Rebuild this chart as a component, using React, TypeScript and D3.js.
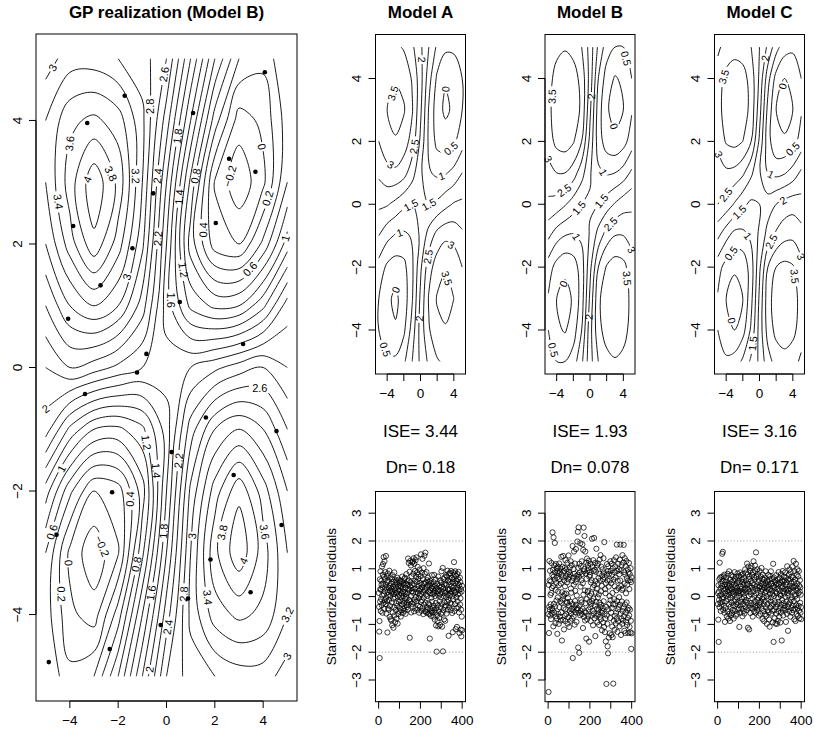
import React from "react";
import * as d3 from "d3";

const FONT = "'Liberation Sans', Arial, Helvetica, sans-serif";

// ---------- grid coordinates of the fields ----------
const GRID_X = [-5, -4, -3, -2, -1, 0, 1, 2, 3, 4, 5];
const GRID_Y = [5, 4, 3, 2, 1, 0, -1, -2, -3, -4, -5];

// GP realization (rows: y = 5 ... -5, cols: x = -5 ... 5)
const TRUE_FIELD = [
  [2.9, 3.1, 3.1, 3.0, 2.9, 2.6, 1.8, 1.0, 0.4, 0.25, 0.6],
  [3.2, 3.55, 3.65, 3.5, 3.05, 2.3, 1.4, 0.5, -0.1, 0.05, 0.5],
  [3.2, 3.7, 4.15, 3.75, 3.0, 2.0, 0.95, -0.02, -0.35, -0.05, 0.6],
  [3.0, 3.5, 3.95, 3.5, 2.85, 1.8, 0.7, 0.1, 0.0, 0.45, 1.1],
  [2.6, 3.0, 3.2, 3.0, 2.5, 1.7, 1.15, 0.95, 1.0, 1.35, 1.9],
  [2.2, 2.4, 2.3, 2.15, 2.0, 1.9, 2.0, 2.15, 2.3, 2.4, 2.2],
  [1.9, 1.35, 1.0, 0.95, 1.15, 1.7, 2.5, 3.0, 3.2, 3.0, 2.6],
  [1.1, 0.45, 0.0, 0.1, 0.7, 1.8, 2.85, 3.5, 3.95, 3.5, 3.0],
  [0.6, -0.05, -0.35, -0.02, 0.95, 2.0, 3.0, 3.75, 4.15, 3.7, 3.2],
  [0.5, 0.05, -0.1, 0.5, 1.4, 2.3, 3.05, 3.5, 3.65, 3.55, 3.2],
  [0.6, 0.25, 0.4, 1.0, 1.8, 2.6, 2.9, 3.0, 3.1, 3.1, 2.9],
];

const MODEL_A_FIELD = [
  [3.0, 3.1, 3.1, 2.95, 2.6, 2.1, 1.5, 0.9, 0.6, 0.6, 0.8],
  [3.1, 3.35, 3.45, 3.35, 2.95, 2.2, 1.2, 0.4, 0.05, 0.15, 0.5],
  [3.15, 3.5, 3.7, 3.55, 3.05, 2.1, 0.95, 0.2, -0.1, 0.1, 0.5],
  [3.0, 3.3, 3.45, 3.25, 2.8, 1.9, 0.9, 0.35, 0.25, 0.4, 0.8],
  [2.6, 2.85, 2.9, 2.7, 2.2, 1.6, 1.05, 0.9, 0.95, 1.15, 1.5],
  [2.1, 2.05, 1.85, 1.6, 1.5, 1.6, 1.5, 1.6, 1.85, 2.05, 2.1],
  [1.5, 1.15, 0.95, 0.9, 1.05, 1.6, 2.2, 2.7, 2.9, 2.85, 2.6],
  [0.8, 0.4, 0.25, 0.35, 0.9, 1.9, 2.8, 3.25, 3.45, 3.3, 3.0],
  [0.5, 0.1, -0.1, 0.2, 0.95, 2.1, 3.05, 3.55, 3.7, 3.5, 3.15],
  [0.5, 0.15, 0.05, 0.4, 1.2, 2.2, 2.95, 3.35, 3.45, 3.35, 3.1],
  [0.8, 0.6, 0.6, 0.9, 1.5, 2.1, 2.6, 2.95, 3.1, 3.1, 3.0],
];

const MODEL_B_FIELD = [
  [3.0, 3.35, 3.45, 3.35, 3.0, 2.3, 1.4, 0.75, 0.5, 0.5, 0.75],
  [3.3, 3.7, 3.85, 3.7, 3.35, 2.3, 1.0, 0.25, -0.05, 0.1, 0.5],
  [3.35, 3.8, 3.95, 3.8, 3.4, 2.1, 0.75, 0.05, -0.15, 0.0, 0.45],
  [3.25, 3.65, 3.75, 3.55, 3.0, 1.85, 0.75, 0.25, 0.1, 0.3, 0.75],
  [2.8, 3.0, 3.0, 2.75, 2.2, 1.55, 1.1, 0.95, 1.0, 1.2, 1.6],
  [2.4, 2.3, 2.05, 1.75, 1.5, 1.45, 1.5, 1.75, 2.05, 2.3, 2.4],
  [1.6, 1.2, 1.0, 0.95, 1.1, 1.55, 2.2, 2.75, 3.0, 3.0, 2.8],
  [0.75, 0.3, 0.1, 0.25, 0.75, 1.85, 3.0, 3.55, 3.75, 3.65, 3.25],
  [0.45, 0.0, -0.15, 0.05, 0.75, 2.1, 3.4, 3.8, 3.95, 3.8, 3.35],
  [0.5, 0.1, -0.05, 0.25, 1.0, 2.3, 3.35, 3.7, 3.85, 3.7, 3.3],
  [0.75, 0.5, 0.5, 0.75, 1.4, 2.3, 3.0, 3.35, 3.45, 3.35, 3.0],
];

const MODEL_C_FIELD = [
  [2.9, 3.2, 3.3, 3.25, 3.0, 2.5, 1.9, 1.2, 0.7, 0.6, 0.8],
  [3.25, 3.65, 3.8, 3.7, 3.3, 2.4, 1.2, 0.3, 0.0, 0.1, 0.5],
  [3.3, 3.75, 3.9, 3.75, 3.35, 2.2, 0.85, 0.0, -0.15, 0.0, 0.45],
  [3.15, 3.55, 3.65, 3.5, 3.0, 1.9, 0.7, 0.1, 0.05, 0.3, 0.7],
  [2.7, 2.9, 2.85, 2.6, 2.1, 1.55, 1.0, 0.85, 0.95, 1.2, 1.6],
  [2.5, 2.3, 1.95, 1.6, 1.4, 1.5, 1.75, 2.0, 2.2, 2.3, 2.2],
  [1.6, 1.15, 0.8, 0.85, 1.1, 1.6, 2.2, 2.6, 2.85, 2.9, 2.7],
  [0.7, 0.3, 0.05, 0.15, 0.75, 1.9, 3.0, 3.5, 3.65, 3.55, 3.15],
  [0.45, 0.0, -0.15, 0.0, 0.85, 2.1, 3.3, 3.75, 3.9, 3.75, 3.3],
  [0.5, 0.1, 0.0, 0.3, 1.1, 2.2, 3.2, 3.65, 3.8, 3.65, 3.25],
  [0.8, 0.6, 0.7, 1.1, 1.6, 2.1, 2.8, 3.2, 3.3, 3.2, 2.9],
];

const TRUE_LEVELS = [-0.2, 0, 0.2, 0.4, 0.6, 0.8, 1, 1.2, 1.4, 1.6, 1.8, 2, 2.2, 2.4, 2.6, 2.8, 3, 3.2, 3.4, 3.6, 3.8, 4];
const MODEL_LEVELS = [0, 0.5, 1, 1.5, 2, 2.5, 3, 3.5];

// design points of the GP realization
const DESIGN_X = [-1.73, -3.28, 1.1, 4.07, 2.59, 3.68, -0.55, -3.86, 2.04, -1.41, -2.73, 0.55, -4.07, 3.17, -0.83, -1.22, -3.37, 1.63, 4.55, 0.21, 2.78, -2.25, 4.76, -4.55, 1.82, 0.89, 3.48, -0.24, -2.35, -4.87];
const DESIGN_Y = [4.4, 3.96, 4.12, 4.78, 3.38, 3.17, 2.82, 2.29, 2.34, 1.93, 1.33, 1.06, 0.79, 0.38, 0.22, -0.08, -0.43, -0.81, -1.03, -1.37, -1.74, -2.02, -2.55, -2.71, -3.11, -3.74, -3.64, -4.17, -4.56, -4.77];

// contour label anchors: [level, x, y]
const TRUE_LABELS = [
  [3, -4.55, 4.82], [2.6, 0, 4.74], [2.8, -0.62, 4.23], [1.8, 0.55, 3.74], [3.6, -4.28, 3.64], [0, 4.0, 3.58],
  [4, -3.0, 3.0], [3.8, -2.14, 3.17], [3.2, -1.24, 3.1], [2.4, -0.3, 3.1], [0.8, 1.21, 3.1], [-0.2, 2.6, 3.1],
  [1.4, 0.52, 2.76], [3.4, -4.55, 2.68], [0.2, 4.1, 2.75], [2.2, -0.35, 2.09], [0.4, 1.45, 2.23], [1, 4.69, 2.12],
  [1.2, 0.55, 1.57], [0.6, 3.58, 1.55], [3, -1.65, 1.47], [1.6, -0.07, 1.09], [2.6, 3.86, -0.37], [2, -4.76, -0.91],
  [1.2, -0.76, -1.21], [2.2, 0.55, -1.51], [1.4, -0.41, -1.67], [1, -4.34, -1.64], [0.4, -1.45, -2.13], [3.8, 2.07, -2.65],
  [3.6, 4.28, -2.65], [1.8, -0.14, -2.65], [3, 1.03, -2.73], [0.6, -4.69, -2.67], [-0.2, -2.97, -2.94], [0, -4.0, -3.16],
  [0.8, -1.17, -3.19], [4, 3.0, -3.1], [1.6, -0.62, -3.65], [2.8, 0.76, -3.67], [3.4, 1.51, -3.73], [3.2, 4.9, -3.65],
  [0.2, -4.34, -3.67], [2.4, 0, -4.2], [3, 4.76, -4.62], [2, -0.97, -4.87],
];
const MODEL_A_LABELS = [
  [3, -4.5, 4.54], [2, 0.49, 4.6], [3.5, -3.3, 3.53], [0, 3.28, 3.9], [2.5, -0.7, 1.83], [0.5, 3.48, 1.83],
  [3, -3.7, 1.2], [1, 2.49, 0.93], [1.5, -1.5, 0.14], [1.5, 1.09, -0.18], [1, -2.5, -0.92], [3, 3.68, -1.3],
  [2.5, 0.89, -1.67], [3.5, 3.08, -2.36], [0, -3.5, -2.52], [2, -0.31, -3.63], [0.5, -3.9, -4.59],
];
const MODEL_B_LABELS = [
  [0.5, 3.79, 4.6], [3.5, -4.78, 3.43], [2, 0, 3.43], [0, 2.79, 2.47], [3, -4.78, 1.57], [1, 2.0, 1.09],
  [2.5, -3.39, 0.56], [1.5, -2.19, 0.08], [1.5, 1.2, 0.14], [2.5, 2.79, -0.71], [1, -1.59, -1.03], [3, 4.78, -1.56],
  [3.5, 3.98, -2.36], [0, -3.79, -2.46], [2, -0.2, -3.58], [0.5, -3.79, -4.59],
];
const MODEL_C_LABELS = [
  [3.5, -3.07, 3.96], [2, 0.72, 4.65], [0, 2.9, 3.75], [3, -4.67, 1.62], [0.5, 3.71, 1.83], [1, 1.52, 1.04],
  [2.5, -4.27, 0.35], [1.5, -2.67, -0.18], [2, 3.5, -0.18], [1, -1.28, -0.98], [2.5, 1.11, -1.14], [0.5, -2.87, -1.67],
  [3, 4.9, -1.67], [3.5, 3.71, -2.31], [0, -3.07, -3.68], [1.5, -0.87, -4.43],
];

// standardized residuals (index 1..400)
const RESID_A = [
  0.13, -0.37, -1.26, -0.88, -2.21, 0.62, -0.18, 0.27, 0.91, -0.52, 0.24, -0.09, 0.57, 0.43, -0.31, 1.08, 0.04, -0.58, 0.33, 0.79,
  1.17, 0.46, -0.23, 1.42, 0.71, 0.08, -0.44, 1.27, 0.19, -0.13, 0.63, 0.88, -0.27, 0.41, 1.46, -0.04, -0.61, 0.29, 0.74, -0.16,
  0.52, -1.29, 0.17, 0.83, -0.42, 0.06, 0.58, -0.47, 0.32, -0.12, 0.93, 0.38, -0.73, 0.22, -0.34, 0.69, 0.03, -0.81, 0.47, 0.14,
  -0.86, 0.28, -0.21, 0.64, -1.03, 0.18, 0.77, -0.57, 0.36, -0.07, -1.12, 0.53, 0.09, -0.39, 0.87, -0.68, 0.23, -0.02, -0.92, 0.44,
  0.31, -0.48, 0.59, -0.24, 0.12, -0.79, 0.51, 0.16, -0.33, 0.68, -0.97, 0.01, 0.37, -0.63, 0.26, 0.61, -0.19, 0.07, -0.53, 0.49,
  0.21, -0.41, 0.57, -0.14, 0.39, -0.72, 0.34, -0.03, -0.49, 0.54, 0.11, -0.28, 0.72, -0.17, 0.29, -0.59, 0.18, 0.48, -0.43, 0.02,
  0.42, -0.23, 0.63, -0.51, 0.16, 0.68, -0.08, 0.32, -0.62, 0.09, 0.47, -0.31, 0.81, -0.01, -0.38, 0.43, -0.22, 0.56, 0.13, -0.47,
  1.37, 0.27, -0.29, 1.21, 0.58, -0.12, 0.24, 0.89, -1.48, 0.37, 1.28, -0.18, 0.52, 0.03, 1.12, -0.57, 0.31, 0.73, -0.26, 0.19,
  1.23, 0.41, -0.36, 1.26, 0.14, 0.82, -0.21, 1.38, 0.47, -0.53, 1.18, 0.28, -0.11, 0.92, 0.57, -0.42, 1.31, 0.17, -0.02, 0.71,
  1.41, -0.17, 0.53, 0.87, -0.48, 0.27, 1.07, 0.12, -0.32, 0.64, 0.79, -0.06, 0.38, -0.58, 0.21, 0.97, 0.04, -0.37, 0.49, 0.28,
  0.73, -0.19, 1.52, 0.09, -0.51, 0.43, 0.86, -0.13, 0.33, 1.36, -0.41, 0.62, 0.17, -0.63, 1.02, -0.03, 0.48, -0.29, 1.47, 0.22,
  0.82, -0.52, 0.27, 1.58, -0.22, 0.51, 0.07, -0.57, 0.88, 0.32, -0.38, 0.59, 0.02, -0.47, 0.41, 0.68, -0.24, 0.18, -0.61, 0.53,
  1.19, -0.28, 0.42, -0.63, -1.51, 0.12, 0.57, -0.43, 0.23, -0.69, 0.48, -0.04, -0.52, 0.31, 0.77, -0.18, -0.58, 0.37, 0.08, -0.41,
  0.28, -0.72, 0.52, -0.33, 0.14, 0.78, -0.48, 0.21, -0.83, 0.39, 0.02, -0.57, 0.61, -0.23, -1.04, 0.29, -0.42, -1.98, 0.11, -0.67,
  0.47, -0.88, 0.19, -0.31, 0.72, -1.07, 0.03, -0.53, 0.38, -0.77, 0.23, -0.17, 0.58, -1.02, 0.09, -0.39, 0.32, -0.62, -0.03, 0.51,
  0.91, -0.27, 0.36, -1.08, 0.17, -0.58, 1.03, -1.97, 0.28, -0.48, 0.63, 0.02, -0.82, 0.43, -0.21, 0.69, -0.37, 0.13, -0.87, 0.47,
  0.19, -0.32, 0.77, -0.02, -0.61, 0.42, 0.72, -0.18, 0.07, 0.93, -0.47, 0.27, 0.58, -0.12, -1.41, 0.23, 0.83, -0.38, 0.52, 0.04,
  0.27, 0.84, -0.23, 0.62, 0.11, -0.49, 0.92, 0.37, -0.28, 0.18, 0.67, -0.59, 0.01, 0.53, -1.28, 0.31, 0.87, -0.09, 0.63, 0.22,
  1.24, 0.38, -0.52, 0.79, 0.13, -0.27, 0.91, 0.48, -1.17, 0.17, 0.73, -0.03, -0.42, 0.57, -1.09, 0.32, 0.81, -0.17, 0.46, 0.08,
  0.62, -0.38, 0.89, 0.23, -0.57, 0.41, -1.31, 0.12, 0.68, -0.28, 0.52, -0.06, -1.19, 0.27, -0.47, -1.43, 0.18, -0.72, 0.39, -1.21,
];
const RESID_B = [
  -0.63, -3.43, 0.42, -1.31, -0.37, 1.28, 0.58, -0.47, 0.93, -0.68, 0.06, -0.28, 0.54, -0.81, 0.13, 1.21, -0.59, 0.31, -0.42, 0.78,
  2.31, -0.49, 0.97, 0.38, -1.07, 2.13, 0.72, -0.26, 1.12, -0.58, 0.61, 1.93, -0.36, 0.87, -0.96, 0.24, 1.17, -0.71, 0.49, -0.14,
  1.02, -0.79, 0.68, -1.34, 0.91, -0.03, 1.08, 0.18, -0.62, 0.83, -0.98, 0.41, 1.19, -0.38, 0.63, -0.72, 0.88, -0.17, 1.01, -0.86,
  0.47, -0.57, 1.43, -0.22, 0.79, -1.58, 0.16, 1.07, -0.11, 0.69, -0.83, 1.46, 0.02, -0.41, 0.92, -1.18, 0.58, 0.09, 1.03, -0.69,
  0.37, -0.88, 1.31, -0.46, 0.73, 0.11, -0.63, 0.98, -0.19, 0.51, -0.23, 1.22, -0.97, 0.81, -0.06, 0.62, -0.74, 1.48, -0.31, 0.89,
  -1.09, 0.71, -0.52, 1.04, -0.18, 0.79, -0.87, 1.27, 0.29, -0.61, 0.14, -0.44, 1.13, -0.79, 0.57, -0.27, 1.82, -2.21, 0.68, -0.49,
  0.99, -0.71, 0.43, 1.62, -0.38, 0.82, -1.01, 1.19, -0.16, 0.21, -0.57, 0.52, 1.71, -0.29, 0.74, -0.91, 0.04, -0.48, 0.63, 1.98,
  -0.42, 2.33, 0.79, -1.83, 1.03, 2.49, -0.58, 0.71, -2.02, 1.18, -0.32, 0.87, -0.67, 1.92, 0.36, -0.51, 1.09, -0.12, 0.59, -0.21,
  1.27, -0.63, 0.81, 1.88, -0.44, 0.48, -1.13, 1.68, 0.07, 2.48, 0.91, -0.73, 0.99, 2.18, -0.53, 0.22, -0.86, 1.62, -0.24, 0.83,
  -0.58, 1.22, -1.51, 0.64, -0.09, 1.37, -0.81, 0.93, 0.16, 1.13, 0.21, -0.69, 1.02, -0.47, 1.29, -1.62, 0.72, -0.19, 0.88, 0.03,
  0.78, -0.39, 1.18, -0.88, 0.51, -0.27, 0.11, -0.68, 0.59, 2.08, -0.16, 1.08, -0.51, 0.33, -1.03, 1.31, -0.07, 0.92, -0.61, 2.11,
  0.41, -0.78, 0.97, -0.32, 1.21, -1.42, 0.56, 0.14, 0.89, -0.19, 1.72, -0.69, 0.28, -0.43, 1.12, -0.92, 0.47, -0.03, 1.19, -0.63,
  0.67, -0.48, 0.08, -1.02, 0.82, -0.22, 1.33, -0.73, 0.57, -0.38, 1.49, -0.82, 0.19, -0.29, 1.07, -0.58, 0.39, -1.21, 0.76, -0.52,
  0.98, -0.41, 0.62, -0.93, 1.38, -0.17, 0.87, -1.09, 1.96, -0.62, 0.69, -1.28, 0.27, -0.79, 0.12, -1.61, 0.48, -0.37, -3.14, 0.79,
  -0.68, 1.17, -0.98, 0.58, -1.79, 0.91, -2.04, 1.09, -0.46, 0.36, -1.47, 0.82, -0.26, 0.02, -1.32, 0.58, -0.77, 1.27, -0.13, 0.93,
  -0.57, 0.48, -1.38, 1.18, -0.41, 0.79, -1.08, 0.13, -1.46, 1.02, -0.28, -3.13, 0.61, -0.87, 1.31, -0.09, 0.88, -1.19, 0.37, -0.69,
  1.09, -0.27, 0.68, -0.97, 1.41, -0.58, 0.23, -0.79, 1.87, -0.16, 0.92, -1.27, 0.57, -0.46, 1.18, -0.88, 0.31, -0.37, 0.98, -0.02,
  0.81, -1.07, 1.33, -0.29, 0.58, 1.87, -0.61, 0.94, -1.38, 0.38, -0.79, 1.13, -0.18, 0.24, -0.98, 1.49, -0.52, 0.29, -0.86, 1.22,
  -0.39, 1.86, -0.71, 0.88, -1.23, 0.47, 1.38, -0.28, 0.79, -1.31, 1.09, -0.58, 0.12, -0.91, 1.28, -0.21, 0.67, -1.02, 0.43, -0.48,
  0.98, -0.77, 0.58, -1.31, 0.87, -0.41, 1.21, -0.68, 0.27, -1.09, 0.81, -0.47, 0.59, -1.29, 1.02, -0.87, 0.52, -1.88, 0.69, -1.32,
];
const RESID_C = [
  -0.27, 0.12, -0.83, 0.41, -1.63, 0.18, -0.11, 0.62, -0.38, 1.22, 0.03, 0.68, -0.22, 0.31, -0.52, 0.47, 0.08, -0.29, 0.71, -0.07,
  0.38, 1.54, -0.19, 0.57, 1.61, -0.02, -0.48, 0.28, 0.73, -0.33, 0.21, 0.79, -0.58, 0.43, -0.91, 0.12, 0.52, -0.41, 0.27, 0.69,
  -0.17, 0.58, 0.02, -0.71, 0.42, 0.19, -0.53, 0.82, -0.09, 0.33, -0.79, 0.48, 0.07, -0.28, 0.91, -0.62, 0.23, 0.39, -0.88, -0.03,
  0.61, -0.37, 0.29, -0.68, 0.78, 0.13, -0.22, 0.52, -0.59, 0.27, 0.04, -0.48, 0.72, 0.17, -0.31, 0.58, -0.79, 0.43, 0.09, -0.18,
  0.88, 0.32, -0.51, 0.63, -0.13, 0.38, -0.69, 0.22, 0.71, -0.27, -0.02, 0.49, -0.62, 0.31, 0.83, -0.21, 0.12, -0.47, 0.58, 0.19,
  -0.42, 0.73, 0.03, -1.09, 0.51, 0.21, -0.32, 0.87, -0.58, 0.37, 0.13, -0.19, 0.78, -0.43, 0.28, 0.62, -0.08, 0.53, -0.71, 0.17,
  0.81, -0.28, 0.42, 0.11, -0.52, 0.68, -0.03, -0.61, 0.47, 0.23, -0.17, 0.98, 0.29, -0.38, 0.58, -0.12, 0.87, 0.18, -0.49, 0.41,
  1.19, -0.22, 0.47, 0.79, -1.12, 0.27, 1.08, -0.41, 0.63, 0.02, -1.18, 0.71, 0.17, -0.32, 0.92, 0.38, -0.59, 1.02, 0.09, -0.23,
  0.57, 1.09, -0.42, 0.32, 0.79, -0.07, 0.48, -0.72, 0.88, 0.19, -0.28, 1.27, 0.41, -0.53, 0.69, 0.03, -0.18, 0.61, 1.12, -0.38,
  0.28, 0.91, -0.58, 1.59, 0.12, -0.33, 0.71, 0.37, -0.48, 0.98, 0.23, -0.12, 0.81, -0.39, 0.52, -0.04, -0.68, 0.59, 0.32, -0.21,
  0.92, -0.31, 0.38, 0.02, -0.62, 0.72, 0.18, -0.19, 0.49, 1.03, -0.42, 0.28, -0.08, 0.63, -0.81, 0.22, 0.79, -0.52, 0.41, -0.02,
  -0.28, 0.61, -0.88, 0.33, 0.68, -0.17, 0.13, -0.63, 0.48, 0.91, -0.38, 0.19, -0.69, 0.42, 0.01, -0.98, 0.57, -0.27, 0.31, -0.49,
  0.52, -0.09, 0.78, -0.57, 0.23, 0.41, -0.82, 0.62, -1.08, 0.11, 0.73, -0.39, 0.28, -0.18, 0.91, -0.03, -0.61, 0.48, -0.29, 0.21,
  0.63, -0.51, 0.08, -0.92, 0.38, 1.18, -0.27, -1.63, 0.69, 0.02, -0.49, 0.31, -0.78, 0.52, -0.21, 0.58, -0.97, 0.18, 0.42, -0.38,
  0.77, -0.61, 0.12, -0.98, 0.48, -0.28, 0.27, -0.87, 0.62, -0.03, -0.52, 0.88, -0.19, 0.43, -0.72, 0.21, 0.68, -0.41, 0.08, -0.93,
  0.51, 0.03, -0.58, 0.81, -0.29, 0.32, -1.58, 0.59, -0.12, 0.38, -0.47, 0.92, 0.19, -0.68, 0.53, -0.23, 0.72, 0.11, -0.42, 0.29,
  0.58, -0.32, 0.87, -0.01, -0.49, 0.43, -0.91, 0.68, 0.22, -0.18, 0.51, -0.62, 1.09, 0.13, -0.38, 0.27, -1.23, 0.61, 0.04, -0.28,
  0.79, 0.21, -0.52, 0.98, 0.39, -0.21, 0.62, -0.72, 0.28, 0.88, -0.11, 0.49, -0.41, 0.71, -0.02, -0.58, 0.37, 1.08, -0.32, 0.18,
  0.69, -0.48, 0.32, 1.28, -0.17, 0.52, -0.82, 0.91, 0.08, -0.43, 0.61, 0.02, -0.88, 0.38, 1.18, -0.31, 0.22, -0.63, 0.79, -0.09,
  0.48, 0.98, -0.41, 0.29, -0.69, 0.72, 0.12, -0.33, 0.92, -0.51, 0.39, -0.78, 0.18, 0.59, -0.22, 0.33, -0.58, 0.07, -0.38, -0.81,
];

const MODEL_NAMES = ["Model A", "Model B", "Model C"];
const ISE_VALUES = ["3.44", "1.93", "3.16"];
const DN_VALUES = ["0.18", "0.078", "0.171"];

const FIELD_TICKS = [-4, -2, 0, 2, 4];
const SMALL_FIELD_TICK_LABELS = [-4, 0, 4];
const RESID_X_TICKS = [0, 100, 200, 300, 400];
const RESID_X_TICK_LABELS = [0, 200, 400];
const RESID_Y_TICKS = [-3, -2, -1, 0, 1, 2, 3];
const REF_LINES = [-2, 2];

// ---------- helpers ----------
const fmt = (v: number) => {
  const r = Math.round(v * 1000) / 1000;
  return (r < 0 ? "\u2212" : "") + String(Math.abs(r));
};

type Line = { closed: boolean; pts: [number, number][] };

function dedupe(pts: [number, number][]) {
  const out: [number, number][] = [];
  for (const p of pts) {
    const q = out[out.length - 1];
    if (!q || Math.abs(q[0] - p[0]) > 1e-9 || Math.abs(q[1] - p[1]) > 1e-9) out.push(p);
  }
  return out;
}

function isolines(grid: number[][], level: number): Line[] {
  const ny = grid.length;
  const nx = grid[0].length;
  const values = grid.flat();
  const geo = d3.contours().size([nx, ny]).thresholds([level])(values)[0];
  const sx = GRID_X[1] - GRID_X[0];
  const sy = GRID_Y[1] - GRID_Y[0];
  const toD = (p: number[]): [number, number] => [GRID_X[0] + (p[0] - 0.5) * sx, GRID_Y[0] + (p[1] - 0.5) * sy];
  const eps = 1e-9;
  const onB = (p: number[]) => p[0] < eps || p[0] > nx - eps || p[1] < eps || p[1] > ny - eps;
  const out: Line[] = [];
  for (const poly of geo.coordinates) {
    for (const ring0 of poly) {
      let ring = ring0 as number[][];
      const f = ring[0], l = ring[ring.length - 1];
      if (ring.length > 1 && f[0] === l[0] && f[1] === l[1]) ring = ring.slice(0, -1);
      const n = ring.length;
      const start = ring.findIndex(onB);
      if (start < 0) {
        const pts = dedupe(ring.map(toD));
        if (pts.length >= 3) out.push({ closed: true, pts });
        continue;
      }
      let cur: [number, number][] = [];
      for (let k = 1; k <= n; k++) {
        const p = ring[(start + k) % n];
        if (onB(p)) {
          const d = dedupe(cur);
          if (d.length >= 2) out.push({ closed: false, pts: d });
          cur = [];
        } else cur.push(toD(p));
      }
      const d = dedupe(cur);
      if (d.length >= 2) out.push({ closed: false, pts: d });
    }
  }
  return out;
}

function snap(lines: Line[], sx: any, sy: any, px: number, py: number) {
  let best = { d: Infinity, x: 0, y: 0, a: 0 };
  for (const ln of lines) {
    const P = ln.pts.map((p) => [sx(p[0]), sy(p[1])]);
    const m = ln.closed ? P.length : P.length - 1;
    for (let i = 0; i < m; i++) {
      const a = P[i], b = P[(i + 1) % P.length];
      const dx = b[0] - a[0], dy = b[1] - a[1];
      const L2 = dx * dx + dy * dy || 1e-9;
      let t = ((px - a[0]) * dx + (py - a[1]) * dy) / L2;
      t = Math.max(0, Math.min(1, t));
      const qx = a[0] + t * dx, qy = a[1] + t * dy;
      const d = Math.hypot(qx - px, qy - py);
      if (d < best.d) best = { d, x: qx, y: qy, a: (Math.atan2(dy, dx) * 180) / Math.PI };
    }
  }
  let a = best.a;
  while (a > 90) a -= 180;
  while (a <= -90) a += 180;
  return { ...best, a };
}

function ContourPanel(props: {
  id: string; grid: number[][]; levels: number[]; labels: number[][]; sx: any; sy: any;
  labelSize: number; strokeWidth: number;
}) {
  const { id, grid, levels, labels, sx, sy, labelSize, strokeWidth } = props;
  const lineClosed = d3.line<[number, number]>().x((d) => sx(d[0])).y((d) => sy(d[1])).curve(d3.curveCatmullRomClosed.alpha(0.5));
  const lineOpen = d3.line<[number, number]>().x((d) => sx(d[0])).y((d) => sy(d[1])).curve(d3.curveCatmullRom.alpha(0.5));
  const items = levels.map((lev, li) => {
    const lines = isolines(grid, lev);
    const labs = labels
      .filter((L) => Math.abs(L[0] - lev) < 1e-6)
      .map((L) => {
        const s = snap(lines, sx, sy, sx(L[1]), sy(L[2]));
        const text = fmt(lev);
        return { ...s, text, w: text.length * labelSize * 0.56 + 3, h: labelSize * 0.95 };
      })
      .filter((s) => s.d < 22);
    return { lev, li, lines, labs };
  });
  return (
    <g>
      <defs>
        {items.filter((it) => it.labs.length > 0).map((it) => (
          <mask key={it.li} id={`${id}-m${it.li}`} maskUnits="userSpaceOnUse" x={0} y={0} width={814} height={731}>
            <rect x={0} y={0} width={814} height={731} fill="white" />
            {it.labs.map((lb, k) => (
              <rect key={k} x={-lb.w / 2} y={-lb.h / 2} width={lb.w} height={lb.h} fill="black"
                transform={`translate(${lb.x},${lb.y}) rotate(${lb.a})`} />
            ))}
          </mask>
        ))}
      </defs>
      {items.map((it) => (
        <g key={it.li} mask={it.labs.length > 0 ? `url(#${id}-m${it.li})` : undefined}>
          {it.lines.map((ln, k) => (
            <path key={k} d={(ln.closed ? lineClosed : lineOpen)(ln.pts) || ""} fill="none" stroke="black" strokeWidth={strokeWidth} />
          ))}
        </g>
      ))}
      {items.map((it) =>
        it.labs.map((lb, k) => (
          <text key={`${it.li}-${k}`} transform={`translate(${lb.x},${lb.y}) rotate(${lb.a})`} textAnchor="middle"
            dominantBaseline="central" fontSize={labelSize} fill="black">
            {lb.text}
          </text>
        ))
      )}
    </g>
  );
}

function Box({ x0, x1, y0, y1 }: { x0: number; x1: number; y0: number; y1: number }) {
  return <rect x={x0} y={y0} width={x1 - x0} height={y1 - y0} fill="none" stroke="black" strokeWidth={1} />;
}

function BottomAxis({ scale, y, ticks, labels, fs }: { scale: any; y: number; ticks: number[]; labels: number[]; fs: number }) {
  const x0 = scale(ticks[0]), x1 = scale(ticks[ticks.length - 1]);
  return (
    <g>
      <line x1={x0} x2={x1} y1={y} y2={y} stroke="black" />
      {ticks.map((t) => (
        <line key={t} x1={scale(t)} x2={scale(t)} y1={y} y2={y + 7} stroke="black" />
      ))}
      {labels.map((t) => (
        <text key={t} x={scale(t)} y={y + 19} textAnchor="middle" dominantBaseline="central" fontSize={fs}>
          {fmt(t)}
        </text>
      ))}
    </g>
  );
}

function LeftAxis({ scale, x, ticks, fs }: { scale: any; x: number; ticks: number[]; fs: number }) {
  const y0 = scale(ticks[0]), y1 = scale(ticks[ticks.length - 1]);
  return (
    <g>
      <line x1={x} x2={x} y1={y0} y2={y1} stroke="black" />
      {ticks.map((t) => (
        <line key={t} x1={x - 7} x2={x} y1={scale(t)} y2={scale(t)} stroke="black" />
      ))}
      {ticks.map((t) => (
        <text key={`l${t}`} transform={`translate(${x - 19},${scale(t)}) rotate(-90)`} textAnchor="middle"
          dominantBaseline="central" fontSize={fs}>
          {fmt(t)}
        </text>
      ))}
    </g>
  );
}

export default function App() {
  const AXIS_FS = 13.5;
  const TITLE_FS = 17;

  // left panel
  const L = { x0: 36, x1: 297, y0: 34, y1: 701 };
  const lx = d3.scaleLinear().domain([-5.4, 5.4]).range([L.x0, L.x1]);
  const ly = d3.scaleLinear().domain([-5.4, 5.4]).range([L.y1, L.y0]);

  const COL_LEFT = [375.5, 545, 714.5];
  const COL_W = 90;
  const CT = 34.5, CB = 374;
  const RT = 491.5, RB = 701.7;

  const fields = [MODEL_A_FIELD, MODEL_B_FIELD, MODEL_C_FIELD];
  const fieldLabels = [MODEL_A_LABELS, MODEL_B_LABELS, MODEL_C_LABELS];
  const resids = [RESID_A, RESID_B, RESID_C];

  return (
    <svg width={814} height={731} viewBox="0 0 814 731" style={{ position: "absolute", left: 0, top: 0, background: "white" }}
      fontFamily={FONT}>
      <rect x={0} y={0} width={814} height={731} fill="white" />

      {/* ---- GP realization ---- */}
      <text x={(L.x0 + L.x1) / 2} y={18} textAnchor="middle" fontWeight="bold" fontSize={TITLE_FS}>
        GP realization (Model B)
      </text>
      <ContourPanel id="gp" grid={TRUE_FIELD} levels={TRUE_LEVELS} labels={TRUE_LABELS} sx={lx} sy={ly}
        labelSize={11} strokeWidth={0.9} />
      {DESIGN_X.map((x, i) => (
        <circle key={i} cx={lx(x)} cy={ly(DESIGN_Y[i])} r={2.3} fill="black" />
      ))}
      <Box {...L} />
      <BottomAxis scale={lx} y={L.y1} ticks={FIELD_TICKS} labels={FIELD_TICKS} fs={AXIS_FS} />
      <LeftAxis scale={ly} x={L.x0} ticks={FIELD_TICKS} fs={AXIS_FS} />

      {/* ---- model columns ---- */}
      {MODEL_NAMES.map((name, k) => {
        const x0 = COL_LEFT[k], x1 = COL_LEFT[k] + COL_W;
        const cx = d3.scaleLinear().domain([-5.4, 5.4]).range([x0, x1]);
        const cy = d3.scaleLinear().domain([-5.4, 5.4]).range([CB, CT]);
        const rx = d3.scaleLinear().domain([-15, 416]).range([x0, x1]);
        const ry = d3.scaleLinear().domain([-3.78, 3.78]).range([RB, RT]);
        const mid = (x0 + x1) / 2;
        return (
          <g key={name}>
            <text x={mid} y={18} textAnchor="middle" fontWeight="bold" fontSize={TITLE_FS}>{name}</text>
            <ContourPanel id={`m${k}`} grid={fields[k]} levels={MODEL_LEVELS} labels={fieldLabels[k]} sx={cx} sy={cy}
              labelSize={10.5} strokeWidth={0.9} />
            <Box x0={x0} x1={x1} y0={CT} y1={CB} />
            <BottomAxis scale={cx} y={CB} ticks={FIELD_TICKS} labels={SMALL_FIELD_TICK_LABELS} fs={AXIS_FS} />
            <LeftAxis scale={cy} x={x0} ticks={FIELD_TICKS} fs={AXIS_FS} />

            <text x={mid} y={437} textAnchor="middle" fontSize={TITLE_FS}>{`ISE= ${ISE_VALUES[k]}`}</text>
            <text x={mid} y={472.5} textAnchor="middle" fontSize={TITLE_FS}>{`Dn= ${DN_VALUES[k]}`}</text>

            {REF_LINES.map((v) => (
              <line key={v} x1={x0} x2={x1} y1={ry(v)} y2={ry(v)} stroke="#999" strokeWidth={1} strokeDasharray="1 2.2" />
            ))}
            {resids[k].map((v, i) => (
              <circle key={i} cx={rx(i + 1)} cy={ry(v)} r={2.6} fill="none" stroke="black" strokeWidth={0.75} />
            ))}
            <Box x0={x0} x1={x1} y0={RT} y1={RB} />
            <BottomAxis scale={rx} y={RB} ticks={RESID_X_TICKS} labels={RESID_X_TICK_LABELS} fs={AXIS_FS} />
            <LeftAxis scale={ry} x={x0} ticks={RESID_Y_TICKS} fs={AXIS_FS} />
            <text transform={`translate(${x0 - 44},${(RT + RB) / 2}) rotate(-90)`} textAnchor="middle"
              dominantBaseline="central" fontSize={AXIS_FS}>
              Standardized residuals
            </text>
          </g>
        );
      })}
    </svg>
  );
}
